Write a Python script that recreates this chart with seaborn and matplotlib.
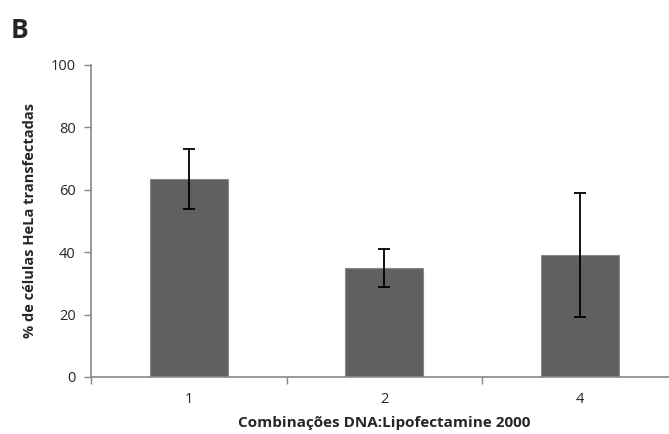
import numpy as np
import pandas as pd
import matplotlib
matplotlib.use("Agg")
import matplotlib.pyplot as plt
import seaborn as sns

categories = ["1", "2", "4"]
means = [63.4, 34.9, 39.1]
errors = [9.6, 6.0, 20.0]

sns.set_style("white")
plt.rcParams["font.family"] = ["Open Sans", "DejaVu Sans"]

df = pd.DataFrame({"combo": categories, "pct": means})

fig = plt.figure(figsize=(6.69, 4.34), dpi=100)
ax = fig.add_axes([91 / 669, (434 - 377) / 434, (677.5 - 91) / 669, (377 - 65) / 434])

sns.barplot(data=df, x="combo", y="pct", color="#606060", width=0.4,
            saturation=1, edgecolor="#8a8a8a", linewidth=0.8, ax=ax)
ax.errorbar(np.arange(len(categories)), means, yerr=errors, fmt="none",
            ecolor="black", elinewidth=1.3, capsize=4, capthick=1.3)

ax.set_xlim(-0.5, 2.5)
ax.set_ylim(0, 100)
ax.set_yticks([0, 20, 40, 60, 80, 100])
ax.tick_params(axis="y", direction="out", length=5, width=1, color="#888888",
               labelsize=10.5, pad=6, left=True)

# ticks at category boundaries, labels at centres
ax.set_xticks([-0.5, 0.5, 1.5, 2.5])
ax.set_xticklabels([])
ax.set_xticks([0, 1, 2], minor=True)
ax.set_xticklabels(categories, minor=True)
ax.tick_params(axis="x", which="major", direction="out", length=5, width=1,
               color="#888888", bottom=True)
ax.tick_params(axis="x", which="minor", length=0, labelsize=10.5, pad=11)

for s in ["top", "right"]:
    ax.spines[s].set_visible(False)
for s in ["left", "bottom"]:
    ax.spines[s].set_color("#888888")
    ax.spines[s].set_linewidth(1.2)

ax.set_xlabel("Combinações DNA:Lipofectamine 2000", fontsize=11,
              fontweight="bold", labelpad=6)
ax.set_ylabel("% de células HeLa transfectadas", fontsize=10.5,
              fontweight="bold", labelpad=10)

fig.text(11 / 669, 1 - 38 / 434, "B", fontsize=19, fontweight="bold")

fig.savefig("out.png", dpi=100)
